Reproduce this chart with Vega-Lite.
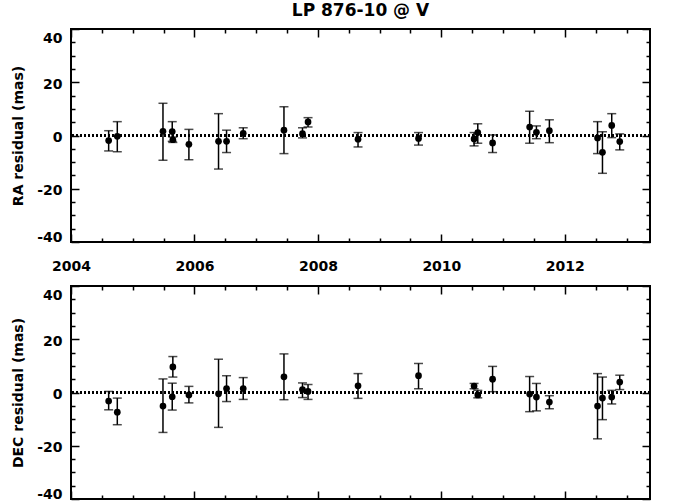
{
  "$schema": "https://vega.github.io/schema/vega-lite/v6.json",
  "padding": {"left": 10, "top": 1, "right": 10, "bottom": 5},
  "background": "white",
  "config": {
    "font": "DejaVu Sans",
    "view": {"stroke": "black", "strokeWidth": 2},
    "axis": {
      "labelFont": "DejaVu Sans", "labelFontWeight": "bold", "labelFontSize": 14, "labelColor": "black",
      "titleFont": "DejaVu Sans", "titleFontWeight": "bold", "titleFontSize": 14, "titleColor": "black",
      "domain": false, "grid": false, "tickColor": "black", "tickWidth": 1.5, "labelOverlap": false
    },
    "concat": {"spacing": 6}
  },
  "datasets": {
    "astro": [
      {"t": 2004.61, "ra": -1.9, "ra_lo": -5.8, "ra_hi": 1.8, "dec": -3.2, "dec_lo": -6.5, "dec_hi": 0.4},
      {"t": 2004.75, "ra": -0.3, "ra_lo": -6.1, "ra_hi": 5.2, "dec": -7.4, "dec_lo": -12.1, "dec_hi": -2.1},
      {"t": 2005.49, "ra": 1.6, "ra_lo": -9.3, "ra_hi": 12.1, "dec": -5.1, "dec_lo": -15.0, "dec_hi": 5.1},
      {"t": 2005.64, "ra": 1.5, "ra_lo": -2.2, "ra_hi": 5.2, "dec": -1.6, "dec_lo": -6.6, "dec_hi": 3.5},
      {"t": 2005.65, "ra": -1.6, "ra_lo": -2.6, "ra_hi": -0.6, "dec": 9.6, "dec_lo": 5.8, "dec_hi": 13.5},
      {"t": 2005.91, "ra": -3.3, "ra_lo": -9.1, "ra_hi": 2.3, "dec": -0.9, "dec_lo": -3.9, "dec_hi": 2.3},
      {"t": 2006.39, "ra": -2.2, "ra_lo": -12.6, "ra_hi": 8.2, "dec": -0.5, "dec_lo": -13.1, "dec_hi": 12.5},
      {"t": 2006.52, "ra": -2.2, "ra_lo": -6.4, "ra_hi": 2.0, "dec": 1.5, "dec_lo": -3.4, "dec_hi": 6.3},
      {"t": 2006.79, "ra": 0.8, "ra_lo": -1.2, "ra_hi": 2.9, "dec": 1.5, "dec_lo": -2.6, "dec_hi": 5.6},
      {"t": 2007.45, "ra": 2.0, "ra_lo": -6.8, "ra_hi": 10.8, "dec": 5.9, "dec_lo": -2.7, "dec_hi": 14.5},
      {"t": 2007.75, "ra": 0.7, "ra_lo": -0.9, "ra_hi": 2.9, "dec": 1.1, "dec_lo": -1.9, "dec_hi": 3.6},
      {"t": 2007.84, "ra": 5.1, "ra_lo": 3.2, "ra_hi": 6.7, "dec": 0.4, "dec_lo": -2.6, "dec_hi": 3.0},
      {"t": 2008.65, "ra": -1.4, "ra_lo": -4.3, "ra_hi": 1.1, "dec": 2.5, "dec_lo": -2.2, "dec_hi": 7.1},
      {"t": 2009.63, "ra": -1.1, "ra_lo": -3.6, "ra_hi": 1.1, "dec": 6.3, "dec_lo": 1.4, "dec_hi": 10.9},
      {"t": 2010.53, "ra": -1.3, "ra_lo": -3.9, "ra_hi": 1.1, "dec": 2.4, "dec_lo": 1.4, "dec_hi": 3.4},
      {"t": 2010.59, "ra": 1.1, "ra_lo": -2.9, "ra_hi": 4.4, "dec": -0.9, "dec_lo": -2.0, "dec_hi": 0.8},
      {"t": 2010.83, "ra": -2.8, "ra_lo": -6.4, "ra_hi": 0.2, "dec": 5.0, "dec_lo": 0.3, "dec_hi": 9.8},
      {"t": 2011.43, "ra": 3.2, "ra_lo": -2.9, "ra_hi": 9.1, "dec": -0.6, "dec_lo": -7.2, "dec_hi": 6.0},
      {"t": 2011.54, "ra": 1.2, "ra_lo": -1.2, "ra_hi": 3.6, "dec": -1.7, "dec_lo": -6.9, "dec_hi": 3.4},
      {"t": 2011.75, "ra": 1.8, "ra_lo": -2.7, "ra_hi": 5.9, "dec": -3.6, "dec_lo": -6.1, "dec_hi": -1.2},
      {"t": 2012.53, "ra": -0.9, "ra_lo": -6.8, "ra_hi": 5.2, "dec": -5.1, "dec_lo": -17.4, "dec_hi": 7.1},
      {"t": 2012.61, "ra": -6.3, "ra_lo": -14.2, "ra_hi": 1.4, "dec": -2.1, "dec_lo": -10.2, "dec_hi": 5.8},
      {"t": 2012.76, "ra": 3.8, "ra_lo": -0.8, "ra_hi": 8.2, "dec": -1.7, "dec_lo": -4.3, "dec_hi": 0.8},
      {"t": 2012.89, "ra": -2.3, "ra_lo": -5.4, "ra_hi": 0.6, "dec": 3.9, "dec_lo": 1.1, "dec_hi": 6.5}
    ]
  },
  "data": {"name": "astro"},
  "vconcat": [
    {
      "width": 579, "height": 213,
      "title": {"text": "LP 876-10 @ V", "frame": "group", "anchor": "middle", "font": "DejaVu Sans", "fontSize": 17, "fontWeight": "bold", "color": "black", "offset": 8},
      "resolve": {"axis": {"x": "independent", "y": "independent"}},
      "layer": [
        {
          "mark": {"type": "rule", "color": "black", "strokeWidth": 1.5, "strokeDash": [2, 2]},
          "encoding": {
            "y": {"datum": 0, "type": "quantitative", "scale": {"domain": [-40, 40], "nice": false, "zero": false}, "axis": null}
          }
        },
        {
          "mark": {"type": "rule", "color": "black", "strokeWidth": 1.5},
          "encoding": {
            "x": {"field": "t", "type": "quantitative", "scale": {"domain": [2004, 2013.38], "nice": false, "zero": false},
              "axis": {"orient": "bottom", "title": null, "values": [2004, 2004.5, 2005, 2005.5, 2006, 2006.5, 2007, 2007.5, 2008, 2008.5, 2009, 2009.5, 2010, 2010.5, 2011, 2011.5, 2012, 2012.5, 2013],
                "labelExpr": "datum.value % 2 === 0 ? '' + datum.value : ''",
                "tickSize": {"condition": {"test": "datum.value % 2 === 0", "value": -8}, "value": -4},
                "labelPadding": 25, "labelFlush": false}},
            "y": {"field": "ra_lo", "type": "quantitative", "scale": {"domain": [-40, 40], "nice": false, "zero": false},
              "axis": {"orient": "left", "title": "RA residual (mas)", "values": [-40, -35, -30, -25, -20, -15, -10, -5, 0, 5, 10, 15, 20, 25, 30, 35, 40],
                "labelExpr": "datum.value % 20 === 0 ? '' + datum.value : ''",
                "tickSize": {"condition": {"test": "datum.value % 20 === 0", "value": -8}, "value": -4},
                "labelPadding": 17, "labelFlush": true, "labelOffset": 2, "titlePadding": 11}},
            "y2": {"field": "ra_hi"}
          }
        },
        {
          "mark": {"type": "tick", "orient": "horizontal", "color": "black", "size": 9, "thickness": 1.5},
          "encoding": {
            "x": {"field": "t", "type": "quantitative", "scale": {"domain": [2004, 2013.38], "nice": false, "zero": false}, "axis": null},
            "y": {"field": "ra_lo", "type": "quantitative", "scale": {"domain": [-40, 40], "nice": false, "zero": false}, "axis": null}
          }
        },
        {
          "mark": {"type": "tick", "orient": "horizontal", "color": "black", "size": 9, "thickness": 1.5},
          "encoding": {
            "x": {"field": "t", "type": "quantitative", "scale": {"domain": [2004, 2013.38], "nice": false, "zero": false}, "axis": null},
            "y": {"field": "ra_hi", "type": "quantitative", "scale": {"domain": [-40, 40], "nice": false, "zero": false}, "axis": null}
          }
        },
        {
          "mark": {"type": "point", "filled": true, "shape": "circle", "size": 45, "color": "black", "opacity": 1},
          "encoding": {
            "x": {"field": "t", "type": "quantitative", "scale": {"domain": [2004, 2013.38], "nice": false, "zero": false},
              "axis": {"orient": "top", "title": null, "labels": false, "values": [2004, 2004.5, 2005, 2005.5, 2006, 2006.5, 2007, 2007.5, 2008, 2008.5, 2009, 2009.5, 2010, 2010.5, 2011, 2011.5, 2012, 2012.5, 2013],
                "tickSize": {"condition": {"test": "datum.value % 2 === 0", "value": -8}, "value": -4}}},
            "y": {"field": "ra", "type": "quantitative", "scale": {"domain": [-40, 40], "nice": false, "zero": false},
              "axis": {"orient": "right", "title": null, "labels": false, "values": [-40, -35, -30, -25, -20, -15, -10, -5, 0, 5, 10, 15, 20, 25, 30, 35, 40],
                "tickSize": {"condition": {"test": "datum.value % 20 === 0", "value": -8}, "value": -4}}}
          }
        }
      ]
    },
    {
      "width": 579, "height": 213,
      "resolve": {"axis": {"x": "independent", "y": "independent"}},
      "layer": [
        {
          "mark": {"type": "rule", "color": "black", "strokeWidth": 1.5, "strokeDash": [2, 2]},
          "encoding": {
            "y": {"datum": 0, "type": "quantitative", "scale": {"domain": [-40, 40], "nice": false, "zero": false}, "axis": null}
          }
        },
        {
          "mark": {"type": "rule", "color": "black", "strokeWidth": 1.5},
          "encoding": {
            "x": {"field": "t", "type": "quantitative", "scale": {"domain": [2004, 2013.38], "nice": false, "zero": false},
              "axis": {"orient": "bottom", "title": null, "labels": false, "values": [2004, 2004.5, 2005, 2005.5, 2006, 2006.5, 2007, 2007.5, 2008, 2008.5, 2009, 2009.5, 2010, 2010.5, 2011, 2011.5, 2012, 2012.5, 2013],
                "tickSize": {"condition": {"test": "datum.value % 2 === 0", "value": -8}, "value": -4}}},
            "y": {"field": "dec_lo", "type": "quantitative", "scale": {"domain": [-40, 40], "nice": false, "zero": false},
              "axis": {"orient": "left", "title": "DEC residual (mas)", "values": [-40, -35, -30, -25, -20, -15, -10, -5, 0, 5, 10, 15, 20, 25, 30, 35, 40],
                "labelExpr": "datum.value % 20 === 0 ? '' + datum.value : ''",
                "tickSize": {"condition": {"test": "datum.value % 20 === 0", "value": -8}, "value": -4},
                "labelPadding": 17, "labelFlush": true, "labelOffset": 2, "titlePadding": 11}},
            "y2": {"field": "dec_hi"}
          }
        },
        {
          "mark": {"type": "tick", "orient": "horizontal", "color": "black", "size": 9, "thickness": 1.5},
          "encoding": {
            "x": {"field": "t", "type": "quantitative", "scale": {"domain": [2004, 2013.38], "nice": false, "zero": false}, "axis": null},
            "y": {"field": "dec_lo", "type": "quantitative", "scale": {"domain": [-40, 40], "nice": false, "zero": false}, "axis": null}
          }
        },
        {
          "mark": {"type": "tick", "orient": "horizontal", "color": "black", "size": 9, "thickness": 1.5},
          "encoding": {
            "x": {"field": "t", "type": "quantitative", "scale": {"domain": [2004, 2013.38], "nice": false, "zero": false}, "axis": null},
            "y": {"field": "dec_hi", "type": "quantitative", "scale": {"domain": [-40, 40], "nice": false, "zero": false}, "axis": null}
          }
        },
        {
          "mark": {"type": "point", "filled": true, "shape": "circle", "size": 45, "color": "black", "opacity": 1},
          "encoding": {
            "x": {"field": "t", "type": "quantitative", "scale": {"domain": [2004, 2013.38], "nice": false, "zero": false},
              "axis": {"orient": "top", "title": null, "labels": false, "values": [2004, 2004.5, 2005, 2005.5, 2006, 2006.5, 2007, 2007.5, 2008, 2008.5, 2009, 2009.5, 2010, 2010.5, 2011, 2011.5, 2012, 2012.5, 2013],
                "tickSize": {"condition": {"test": "datum.value % 2 === 0", "value": -8}, "value": -4}}},
            "y": {"field": "dec", "type": "quantitative", "scale": {"domain": [-40, 40], "nice": false, "zero": false},
              "axis": {"orient": "right", "title": null, "labels": false, "values": [-40, -35, -30, -25, -20, -15, -10, -5, 0, 5, 10, 15, 20, 25, 30, 35, 40],
                "tickSize": {"condition": {"test": "datum.value % 20 === 0", "value": -8}, "value": -4}}}
          }
        }
      ]
    }
  ]
}
